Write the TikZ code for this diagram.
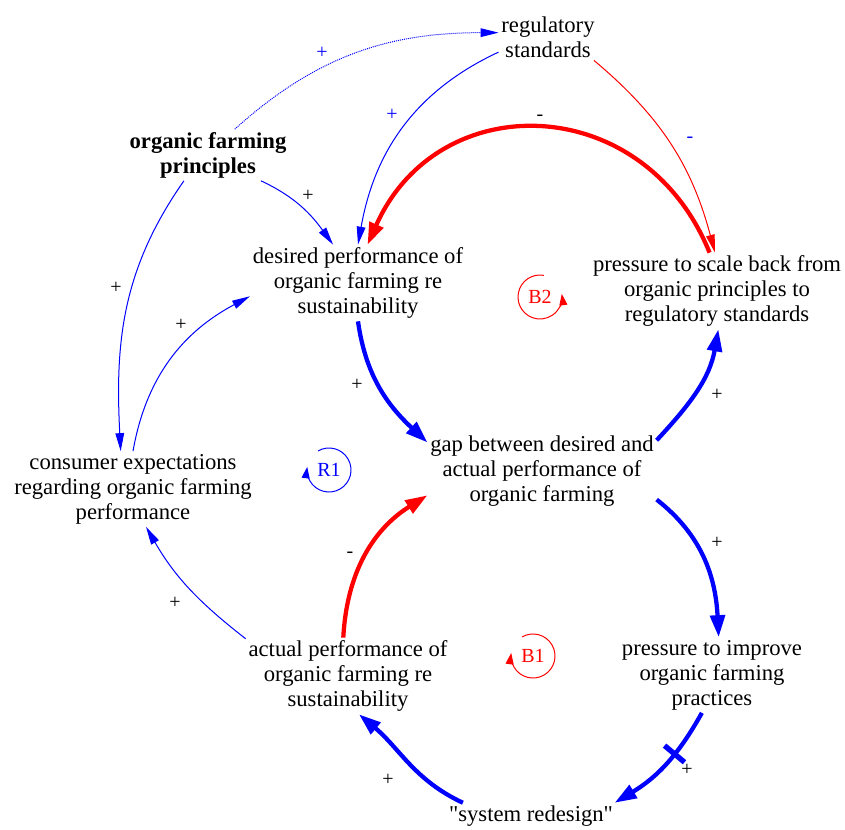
\documentclass[tikz,border=0pt]{standalone}
\usepackage{fontspec}
\setmainfont{Liberation Serif}
\newfontfamily\plainquote{Liberation Serif}
\usetikzlibrary{arrows.meta}

\tikzset{
  var/.style={align=center, inner sep=2pt, font=\fontsize{17pt}{18.75pt}\selectfont},
  sign/.style={inner sep=0pt, font=\fontsize{15pt}{18.75pt}\selectfont},
  thinlink/.style={line width=0.75pt, -{Triangle[length=13.5pt,width=6.5pt]}},
  thicklink/.style={line width=3.2pt, -{Triangle[length=16.5pt,width=11pt]}},
  loopsym/.style={line width=0.75pt, -{Triangle[length=8.5pt,width=6pt]}},
}

\begin{document}
\begin{tikzpicture}[x=0.75pt, y=0.75pt]
  \useasboundingbox (0,0) rectangle (845,-830);

  % variables
  \node[var] (regstd) at (548,-37) {regulatory\\standards};
  \node[var, font=\fontsize{17pt}{18.75pt}\selectfont\bfseries] (principles) at (208,-155) {organic farming\\principles};
  \node[var] (desired) at (358,-283) {desired performance of\\organic farming re\\sustainability};
  \node[var] (scaleback) at (717,-291) {pressure to scale back from\\organic principles to\\regulatory standards};
  \node[var] (gap) at (542,-471) {gap between desired and\\actual performance of\\organic farming};
  \node[var] (consumer) at (133,-489) {consumer expectations\\regarding organic farming\\performance};
  \node[var] (actual) at (348,-676) {actual performance of\\organic farming re\\sustainability};
  \node[var] (improve) at (712,-675) {pressure to improve\\organic farming\\practices};
  \node[var] (redesign) at (531,-816) {{\plainquote"}system redesign{\plainquote"}};

  % loop markers
  \node[sign, text=blue] (loopR1) at (329,-470) {R1};
  \draw[loopsym, blue] (loopR1.center) ++(120:22) arc[start angle=120, end angle=-188, radius=22];
  \node[sign, text=red] (loopB1) at (533,-656) {B1};
  \draw[loopsym, red] (loopB1.center) ++(120:22) arc[start angle=120, end angle=-188, radius=22];
  \node[sign, text=red] (loopB2) at (540,-297) {B2};
  \draw[loopsym, red] (loopB2.center) ++(80:22) arc[start angle=80, end angle=368, radius=22];

  % thin links
  \draw[thinlink, blue, dash pattern=on 0.75pt off 0.75pt] (principles.44) to[out=42, in=180] (regstd.175);
  \draw[thinlink, blue] (regstd.197) to[out=205, in=80] (desired.90);
  \draw[thinlink, blue] (principles.-26) to[out=-25, in=126] (desired.123);
  \draw[thinlink, blue] (principles.227) to[out=235, in=93] (consumer.108);
  \draw[thinlink, blue] (consumer.90) to[out=80, in=208] (desired.187);
  \draw[thinlink, blue] (actual.160) to[out=142, in=-60] (consumer.-71);
  \draw[thinlink, red] (regstd.-27) to[out=-40, in=105] (scaleback.93);

  % thick links
  \draw[thicklink, blue] (desired.-90) to[out=-82, in=137] (gap.166);
  \draw[thicklink, blue] (gap.15) to[out=47, in=-100] (scaleback.-88);
  \draw[thicklink, red] (scaleback.101) to[out=112, in=66, looseness=1.3] (desired.76);
  \draw[thicklink, blue] (gap.-14) to[out=-38, in=93] (improve.80);
  \draw[thicklink, blue] (improve.255) to[out=241, in=31]
    node[pos=0.38, sloped, fill=blue, minimum width=4pt, minimum height=19.5pt, inner sep=0pt] (delaymark) {} (redesign.9);
  \draw[thicklink, blue] (redesign.169) to[out=155, in=-40] (actual.-74);
  \draw[thicklink, red] (actual.97) to[out=87, in=212] (gap.192);

  % polarities
  \node[sign, text=blue] (s1) at (322,-53) {+};
  \node[sign, text=blue] (s2) at (392,-115) {+};
  \node[sign] (s3) at (540,-118) {-};
  \node[sign, text=blue] (s4) at (690,-140) {-};
  \node[sign] (s5) at (308,-196) {+};
  \node[sign] (s6) at (116,-288) {+};
  \node[sign] (s7) at (181,-325) {+};
  \node[sign] (s8) at (357,-385) {+};
  \node[sign] (s9) at (717,-395) {+};
  \node[sign] (s10) at (717,-543) {+};
  \node[sign] (s11) at (350,-555) {-};
  \node[sign] (s12) at (175,-603) {+};
  \node[sign] (s13) at (687,-770) {+};
  \node[sign] (s14) at (388,-780) {+};
\end{tikzpicture}
\end{document}
